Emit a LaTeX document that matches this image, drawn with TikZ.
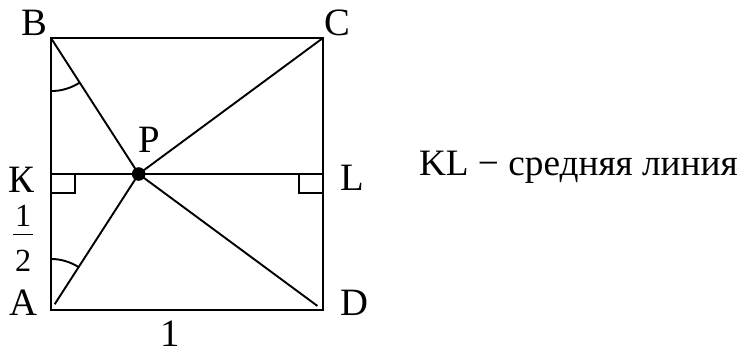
\documentclass[tikz,border=0pt]{standalone}
\usepackage{fontspec}
\setmainfont{Liberation Serif}

\begin{document}
\begin{tikzpicture}[line width=0.8pt, every node/.style={font=\fontsize{16.2}{19}\selectfont}]
    \useasboundingbox (-0.75, -0.62) rectangle (10.18, 4.56);
    \coordinate (A) at (0, 0);
    \coordinate (B) at (0, 4);
    \coordinate (C) at (4, 4);
    \coordinate (D) at (4, 0);
    \coordinate (K) at (0, 2);
    \coordinate (L) at (4, 2);
    \coordinate (P) at (1.29, 2);
    \draw (A) -- (B) -- (C) -- (D) -- cycle;
    \draw (K) -- (L);
    \draw (B) -- (P) -- (C);
    \draw[shorten >=0.1cm] (P) -- (A);
    \draw[shorten >=0.1cm] (P) -- (D);
    \fill (P) circle (0.1);
    \draw (0, 1.72) -- (0.35, 1.72) -- (0.35, 2);
    \draw (3.65, 2) -- (3.65, 1.72) -- (4, 1.72);
    \draw ([shift={(270:0.78)}]B) arc (270:302.8:0.78);
    \draw ([shift={(90:0.75)}]A) arc (90:57.2:0.75);
    \node (lA) at (-0.41, 0.10) {A};
    \node (lB) at (-0.25, 4.23) {B};
    \node (lC) at (4.22, 4.22) {C};
    \node (lD) at (4.47, 0.10) {D};
    \node[inner sep=0pt] (lK) at (-0.44, 1.91) {К};
    \node (lL) at (4.44, 1.94) {L};
    \node (lP) at (1.44, 2.50) {P};
    \node[inner sep=0pt] (one) at (1.75, -0.35) {1};
    \node[inner sep=0pt, font=\fontsize{13.5}{16}\selectfont] (num) at (-0.41, 1.39) {1};
    \node[inner sep=0pt, font=\fontsize{13.5}{16}\selectfont] (den) at (-0.41, 0.73) {2};
    \draw[line width=0.7pt] (-0.56, 1.11) -- (-0.26, 1.11);
    \node[anchor=west, inner sep=0pt, font=\fontsize{15.6}{19}\selectfont] (note) at (5.40, 2.10) {KL − средняя линия};
\end{tikzpicture}
\end{document}
